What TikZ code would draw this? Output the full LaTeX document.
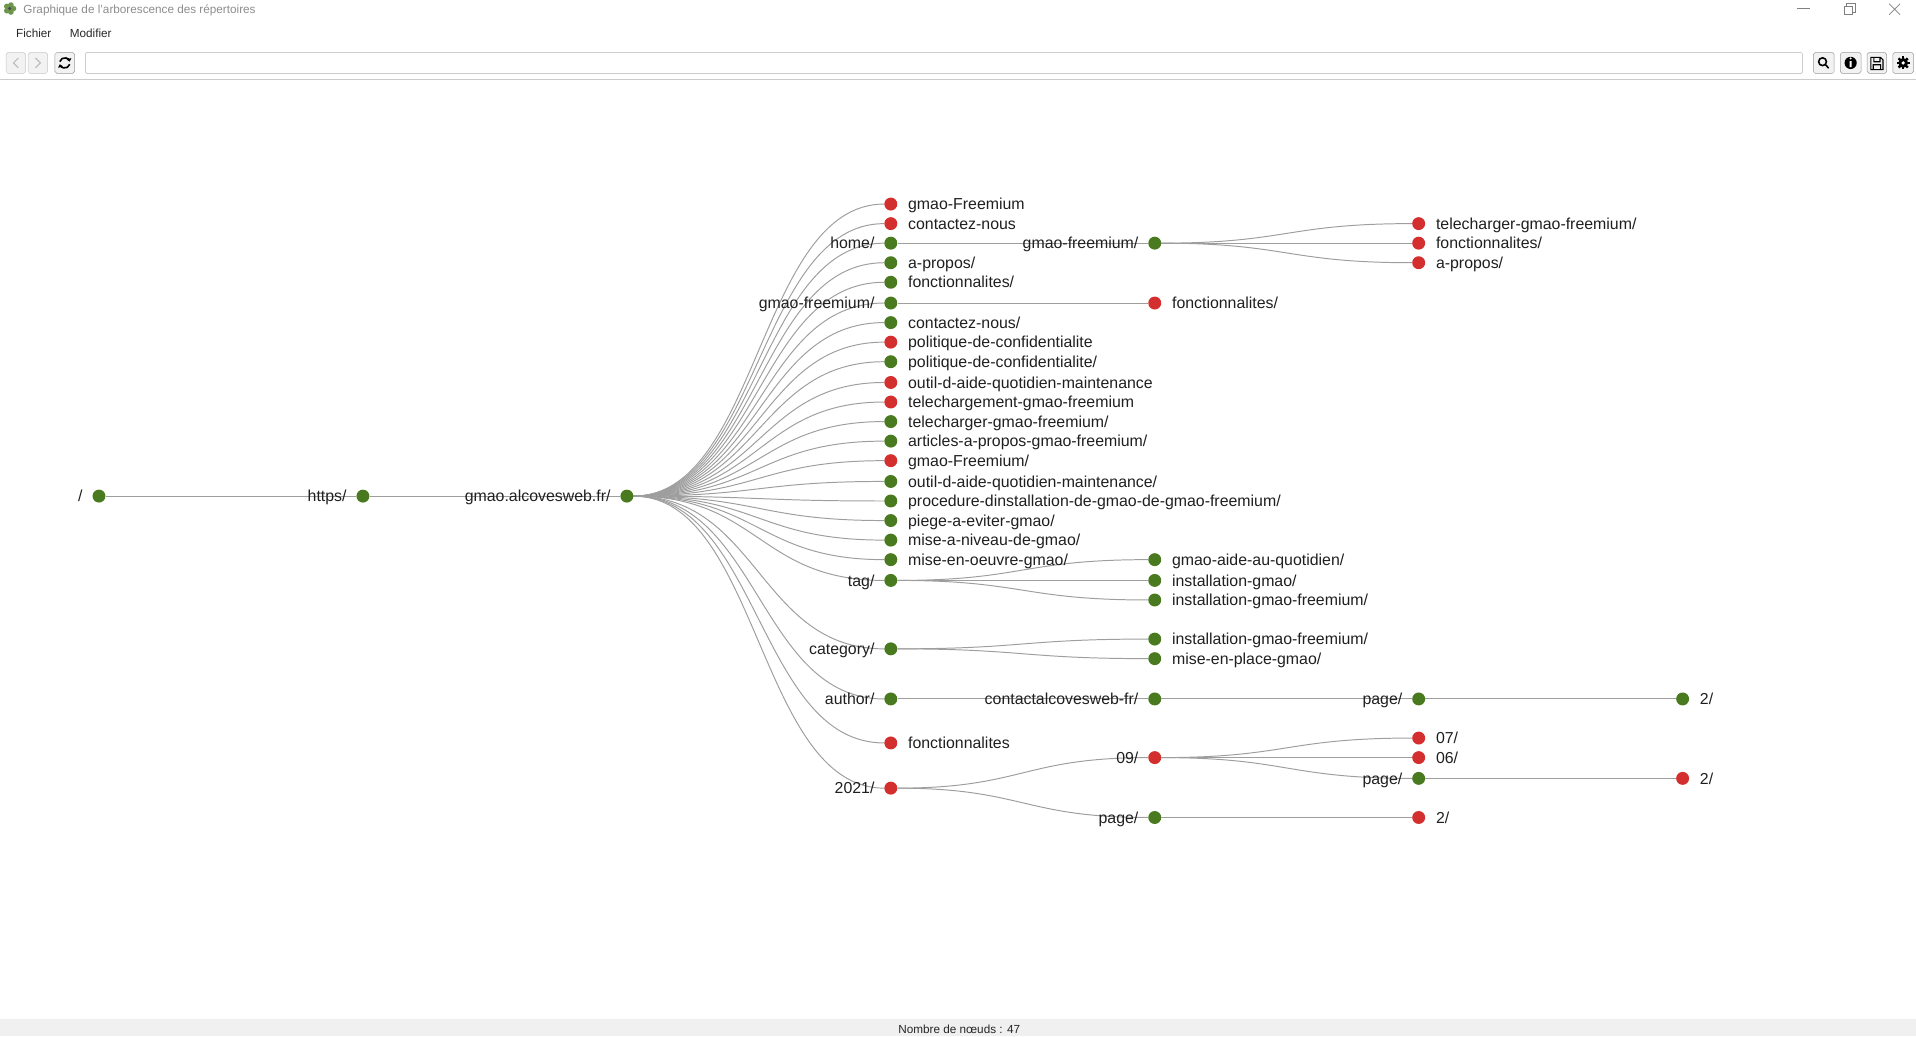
\documentclass[tikz,border=0pt]{standalone}
\usepackage{fontspec}
\setmainfont{Liberation Sans}
\usetikzlibrary{arrows.meta}
\pgfdeclarelayer{bg}
\pgfsetlayers{bg,main}
\definecolor{okgreen}{RGB}{74,122,32}
\definecolor{kored}{RGB}{211,47,47}
\definecolor{linkgray}{RGB}{158,158,158}
\definecolor{chrome}{RGB}{240,240,240}
\newcommand{\fsz}[1]{\fontsize{#1}{#1}\selectfont}
\begin{document}
\begin{tikzpicture}[x=1pt,y=-1pt,line cap=butt,line join=miter,
	dot/.style={circle,inner sep=0pt,minimum size=10.6pt},
	ok/.style={dot,fill=okgreen},
	ko/.style={dot,fill=kored},
	lbl/.style={inner sep=0pt,text height=9.3pt,text depth=0pt,font=\fsz{13},text=black!88},
	leaf/.style={label={[lbl,label distance=8.5pt]right:#1}},
	branch/.style={label={[lbl,label distance=7.7pt]left:#1}},
	link/.style={draw=linkgray,line width=0.8pt},
	btn/.style={draw=black!22,fill=black!5,rounded corners=1.5pt},
	ui/.style={font=\fsz{9.6},inner sep=0pt,text height=6.9pt,text depth=0pt,anchor=west}]
	\useasboundingbox (0,0) rectangle (1568,848);
	% window
	\foreach \a in {0,72,144,216,288}
		\fill[okgreen!80] (8,7)+(\a:3) circle (2.3);
	\fill[black!70] (8,7) circle (1.5);
	\node[ui,text=black!45] (title) at (19,8) {Graphique de l'arborescence des répertoires};
	\draw[black!50,line width=0.6pt] (1471,7)--(1481,7);
	\draw[black!50,line width=0.6pt] (1509,5) rectangle (1516,12) (1511,5)--(1511,3)--(1518,3)--(1518,10)--(1516,10);
	\draw[black!50,line width=0.6pt] (1546,3)--(1555,12) (1546,12)--(1555,3);
	\node[ui,text=black!85] (fichier) at (13,27) {Fichier};
	\node[ui,text=black!85] (modifier) at (57,27) {Modifier};
	% toolbar
	\draw[btn] (5,43) rectangle (21,60);
	\draw[btn] (23,43) rectangle (39,60);
	\draw[black!25,line width=1pt] (15,47.5)--(11,51.5)--(15,55.5) (29,47.5)--(33,51.5)--(29,55.5);
	\draw[btn,draw=black!40] (45,43) rectangle (61,60);
	\draw[line width=1.3pt,-{Triangle[length=2.4pt,width=4pt]}] (53,51.5)+(15:4.2) arc[start angle=15,end angle=165,radius=4.2];
	\draw[line width=1.3pt,-{Triangle[length=2.4pt,width=4pt]}] (53,51.5)+(195:4.2) arc[start angle=195,end angle=345,radius=4.2];
	\draw[draw=black!30,fill=white,rounded corners=1pt] (70,43) rectangle (1475,60);
	\draw[btn,draw=black!40] (1484,43) rectangle (1501,60);
	\draw[line width=1.3pt] (1491.5,50.5) circle (3.2) (1493.8,52.8)--(1496.5,55.8);
	\draw[btn,draw=black!40] (1506,43) rectangle (1523,60);
	\fill (1514.5,51.5) circle (5);
	\fill[white] (1513.7,50) rectangle (1515.3,55) (1514.5,47.8) circle (0.9);
	\draw[btn,draw=black!40] (1528,43) rectangle (1544,60);
	\draw[line width=0.9pt] (1531,47)--(1539,47)--(1541,49)--(1541,57)--(1531,57)--cycle (1533.5,47)--(1533.5,50.5)--(1538.5,50.5)--(1538.5,47) (1533,57)--(1533,53)--(1539,53)--(1539,57);
	\draw[btn,draw=black!40] (1549,43) rectangle (1566,60);
	\foreach \a in {0,45,...,315}
		\draw[line width=2pt] (1557.5,51.5)--+(\a:5.3);
	\fill (1557.5,51.5) circle (4);
	\fill[white] (1557.5,51.5) circle (1.5);
	\draw[black!20] (0,64.5)--(1568,64.5);
	% status bar
	\fill[chrome] (0,834) rectangle (1568,848);
	\node[ui,anchor=center,text=black!85] (count) at (785,842) {Nombre de nœuds : 47};
	% tree
	\node[ok,branch=/] (root) at (81,406) {};
	\node[ok,branch=https/] (https) at (297,406) {};
	\node[ok,branch=gmao.alcovesweb.fr/] (host) at (513,406) {};
	\node[ko,leaf=gmao-Freemium] (gfree) at (729,167) {};
	\node[ko,leaf=contactez-nous] (contact) at (729,183) {};
	\node[ok,branch=home/] (home) at (729,199) {};
	\node[ok,leaf=a-propos/] (apropos) at (729,215) {};
	\node[ok,leaf=fonctionnalites/] (fonct) at (729,231) {};
	\node[ok,branch=gmao-freemium/] (gfreedir) at (729,248) {};
	\node[ok,leaf=contactez-nous/] (contactdir) at (729,264) {};
	\node[ko,leaf=politique-de-confidentialite] (polit) at (729,280) {};
	\node[ok,leaf=politique-de-confidentialite/] (politdir) at (729,296) {};
	\node[ko,leaf=outil-d-aide-quotidien-maintenance] (outil) at (729,313) {};
	\node[ko,leaf=telechargement-gmao-freemium] (telechment) at (729,329) {};
	\node[ok,leaf=telecharger-gmao-freemium/] (telecharger) at (729,345) {};
	\node[ok,leaf=articles-a-propos-gmao-freemium/] (articles) at (729,361) {};
	\node[ko,leaf=gmao-Freemium/] (gfreeup) at (729,377) {};
	\node[ok,leaf=outil-d-aide-quotidien-maintenance/] (outildir) at (729,394) {};
	\node[ok,leaf=procedure-dinstallation-de-gmao-de-gmao-freemium/] (procedure) at (729,410) {};
	\node[ok,leaf=piege-a-eviter-gmao/] (piege) at (729,426) {};
	\node[ok,leaf=mise-a-niveau-de-gmao/] (niveau) at (729,442) {};
	\node[ok,leaf=mise-en-oeuvre-gmao/] (oeuvre) at (729,458) {};
	\node[ok,branch=tag/] (tag) at (729,475) {};
	\node[ok,branch=category/] (category) at (729,531) {};
	\node[ok,branch=author/] (author) at (729,572) {};
	\node[ko,leaf=fonctionnalites] (fonctfile) at (729,608) {};
	\node[ko,branch=2021/] (year) at (729,645) {};
	\node[ok,branch=gmao-freemium/] (homegf) at (945,199) {};
	\node[ko,leaf=telecharger-gmao-freemium/] (hgtele) at (1161,183) {};
	\node[ko,leaf=fonctionnalites/] (hgfonct) at (1161,199) {};
	\node[ko,leaf=a-propos/] (hgapropos) at (1161,215) {};
	\node[ko,leaf=fonctionnalites/] (gffonct) at (945,248) {};
	\node[ok,leaf=gmao-aide-au-quotidien/] (tagaide) at (945,458) {};
	\node[ok,leaf=installation-gmao/] (taginst) at (945,475) {};
	\node[ok,leaf=installation-gmao-freemium/] (taginstfree) at (945,491) {};
	\node[ok,leaf=installation-gmao-freemium/] (catinst) at (945,523) {};
	\node[ok,leaf=mise-en-place-gmao/] (catplace) at (945,539) {};
	\node[ok,branch=contactalcovesweb-fr/] (authcontact) at (945,572) {};
	\node[ok,branch=page/] (authpage) at (1161,572) {};
	\node[ok,leaf=2/] (authpagetwo) at (1377,572) {};
	\node[ko,branch=09/] (sept) at (945,620) {};
	\node[ko,leaf=07/] (septsept) at (1161,604) {};
	\node[ko,leaf=06/] (septsix) at (1161,620) {};
	\node[ok,branch=page/] (septpage) at (1161,637) {};
	\node[ko,leaf=2/] (septpagetwo) at (1377,637) {};
	\node[ok,branch=page/] (yearpage) at (945,669) {};
	\node[ko,leaf=2/] (yearpagetwo) at (1161,669) {};
	\begin{pgfonlayer}{bg}
		\foreach \a/\b in {root/https,https/host,host/gfree,host/contact,host/home,host/apropos,host/fonct,host/gfreedir,host/contactdir,host/polit,host/politdir,host/outil,host/telechment,host/telecharger,host/articles,host/gfreeup,host/outildir,host/procedure,host/piege,host/niveau,host/oeuvre,host/tag,host/category,host/author,host/fonctfile,host/year,home/homegf,homegf/hgtele,homegf/hgfonct,homegf/hgapropos,gfreedir/gffonct,tag/tagaide,tag/taginst,tag/taginstfree,category/catinst,category/catplace,author/authcontact,authcontact/authpage,authpage/authpagetwo,year/sept,sept/septsept,sept/septsix,sept/septpage,septpage/septpagetwo,year/yearpage,yearpage/yearpagetwo}
			\draw[link] (\a) .. controls +(108,0) and +(-108,0) .. (\b);
	\end{pgfonlayer}
\end{tikzpicture}
\end{document}
